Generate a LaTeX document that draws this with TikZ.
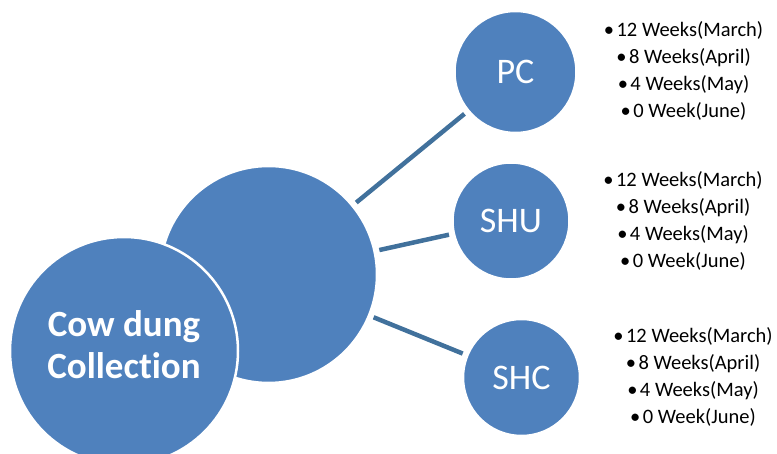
\documentclass[tikz,border=0pt]{standalone}
\usepackage{fontspec}
\setmainfont{Carlito}[Ligatures=NoCommon]
\definecolor{bubbleblue}{HTML}{4F81BD}
\definecolor{linkblue}{HTML}{41719C}
\newcommand{\wk}{•\hspace{2.5pt}}

\begin{document}
\begin{tikzpicture}[x=1pt, y=-1pt,
    bubble/.style={circle, fill=bubbleblue, draw=white, line width=2.5pt, inner sep=0pt, outer sep=0pt,
                   text=white, align=center, font=\fontsize{36}{40}\selectfont},
    link/.style={draw=linkblue, line width=4.5pt, shorten <=5pt, shorten >=5pt},
    weeks/.style={align=center, font=\fontsize{20.5}{27}\selectfont}]
    \useasboundingbox (0,0) rectangle (777,454);

    \node (hub)[bubble, minimum size=217pt] at (268.5, 274.5) {};
    \node (cow)[bubble, minimum size=228pt, text depth=12pt, font=\bfseries\fontsize{37}{42}\selectfont] at (124, 351) {Cow dung\\Collection};

    \node (PC)[bubble, minimum size=122pt] at (515.5, 72) {PC};
    \node (SHU)[bubble, minimum size=117pt] at (511, 221) {SHU};
    \node (SHC)[bubble, minimum size=117pt] at (521.5, 377.5) {SHC};

    \draw[link] (hub) -- (PC);
    \draw[link] (hub) -- (SHU);
    \draw[link] (hub) -- (SHC);

    \node (PCweeks)[weeks] at (683.5, 71) {\wk 12 Weeks(March)\\\wk 8 Weeks(April)\\\wk 4 Weeks(May)\\\wk 0 Week(June)};
    \node (SHUweeks)[weeks] at (683, 221) {\wk 12 Weeks(March)\\\wk 8 Weeks(April)\\\wk 4 Weeks(May)\\\wk 0 Week(June)};
    \node (SHCweeks)[weeks] at (693, 377) {\wk 12 Weeks(March)\\\wk 8 Weeks(April)\\\wk 4 Weeks(May)\\\wk 0 Week(June)};

\end{tikzpicture}
\end{document}
